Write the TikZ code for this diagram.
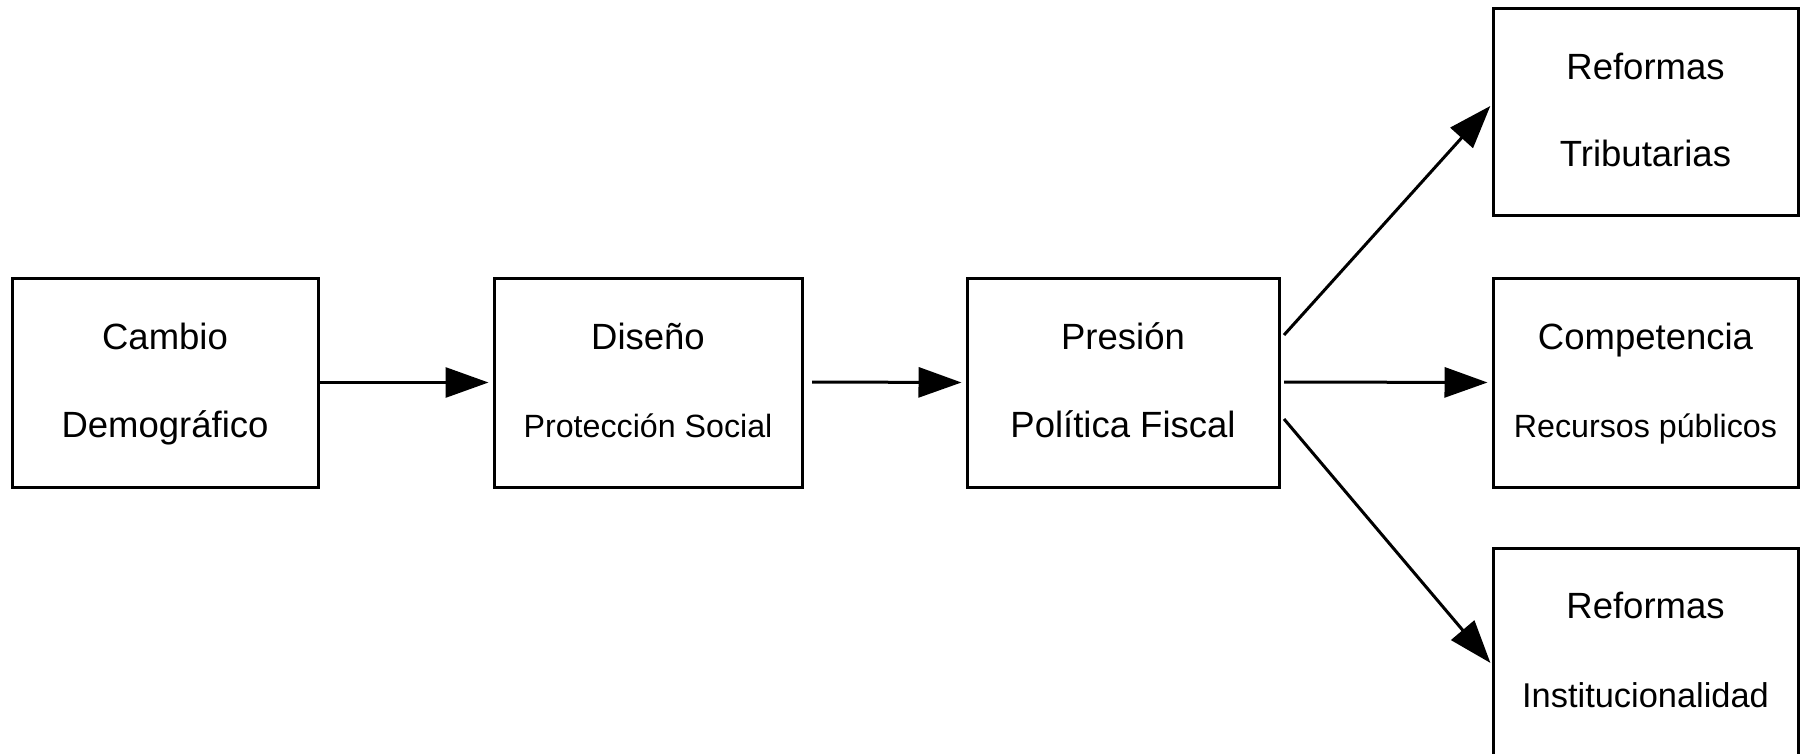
\documentclass[tikz,border=0pt]{standalone}
\usepackage{fontspec}
\setmainfont{Liberation Sans}
\usetikzlibrary{arrows.meta}
\begin{document}
\begin{tikzpicture}[x=0.5pt,y=-0.5pt,
  box/.style={draw,line width=1.5pt,minimum width=#1,minimum height=104.5pt,inner sep=0pt},
  big/.style={anchor=base,inner sep=0pt,font=\fontsize{18.25pt}{20pt}\selectfont},
  small/.style={anchor=base,inner sep=0pt,font=\fontsize{16.1pt}{18pt}\selectfont},
  mid/.style={anchor=base,inner sep=0pt,font=\fontsize{17.2pt}{19pt}\selectfont},
  arr/.style={line width=1.5pt,-{Triangle[length=21.5pt,width=15pt]},shorten >=2pt}]
\useasboundingbox (0,0) rectangle (1803,754);
% boxes
\node[box=153pt] (cam) at (165,382.5) {};
\node[box=154pt] (dis) at (648,382.5) {};
\node[box=156pt] (pre) at (1123,382.5) {};
\node[box=152.5pt,minimum height=103.5pt] (tri) at (1645.5,112.5) {};
\node[box=152.5pt] (com) at (1645.5,382.5) {};
\node[box=152.5pt] (ins) at (1645.5,652.5) {};
% texts
\node[big] (t1) at (165,349) {Cambio};
\node[big] (t2) at (165,437) {Demográfico};
\node[big] (t3) at (648,349) {Diseño};
\node[small] (t4) at (648,437) {Protección Social};
\node[big] (t5) at (1123,349) {Presión};
\node[big] (t6) at (1123,437) {Política Fiscal};
\node[big] (t7) at (1645.5,80) {Reformas};
\node[big] (t8) at (1645.5,167) {Tributarias};
\node[big] (t9) at (1645.5,349) {Competencia};
\node[small] (t10) at (1645.5,437) {Recursos públicos};
\node[big] (t11) at (1645.5,618) {Reformas};
\node[mid] (t12) at (1645.5,707) {Institucionalidad};
% connector endpoints
\coordinate (d0) at (812,382);
\coordinate (p0) at (1284,382);
\coordinate (u0) at (1284,335);
\coordinate (u1) at (1493,103);
\coordinate (l0) at (1284,419);
\coordinate (l1) at (1493,666);
% arrows
\draw[arr] (cam.east) -- (dis.west);
\draw[arr] (d0) -- (pre.west);
\draw[arr] (p0) -- (com.west);
\draw[arr] (u0) -- (u1);
\draw[arr] (l0) -- (l1);
\end{tikzpicture}
\end{document}
